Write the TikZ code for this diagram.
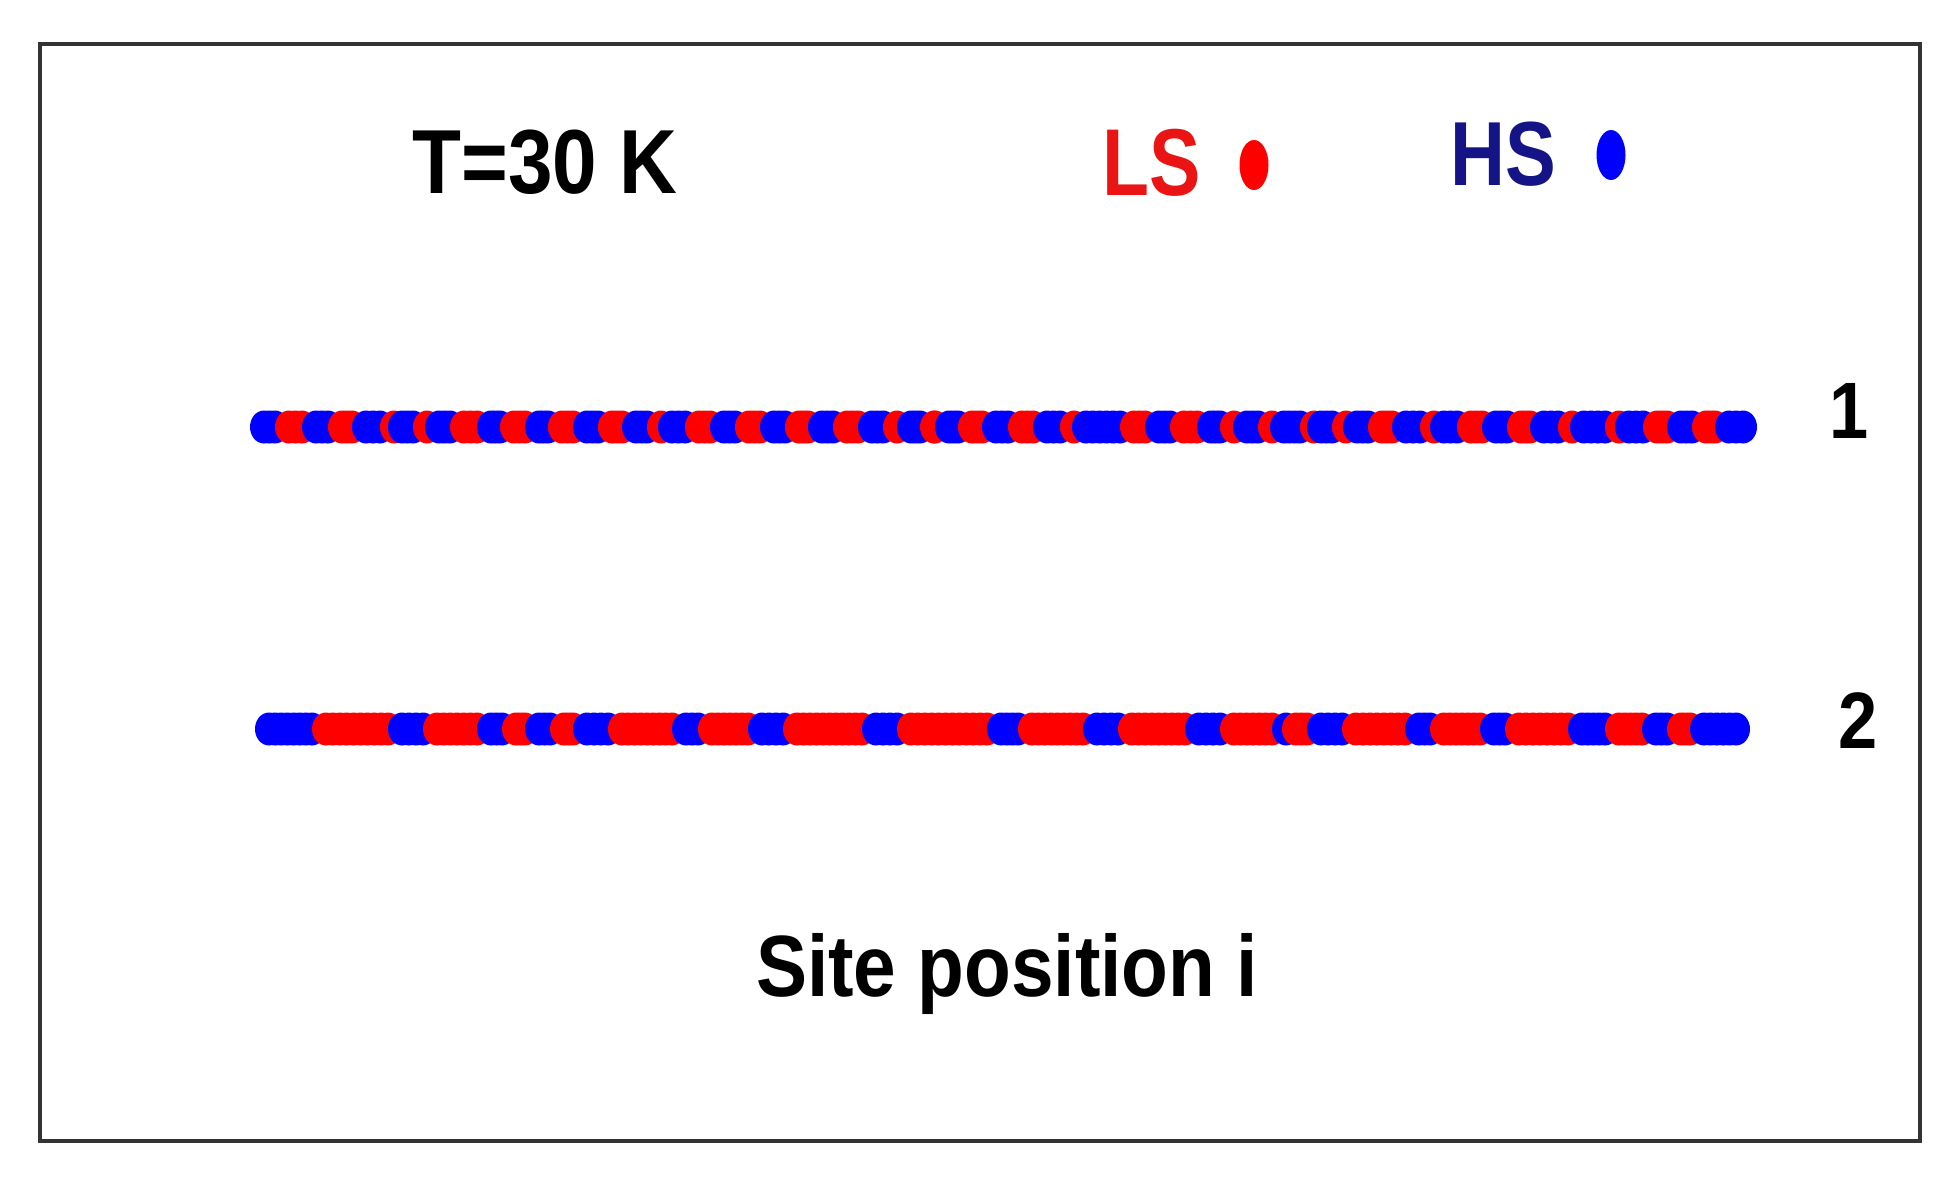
\documentclass[tikz,border=0pt]{standalone}
\usepackage{fontspec}
\usetikzlibrary{shapes.geometric}
\newfontfamily\hv[FakeStretch=0.88]{Liberation Sans}
\definecolor{lsred}{RGB}{255,0,0}
\definecolor{hsblue}{RGB}{0,0,255}
\definecolor{lstext}{RGB}{235,20,20}
\definecolor{hstext}{RGB}{20,20,135}
\newcommand\drawchain[2]{%
  \foreach \xa/\xb/\cc in {#2}{%
    \pgfmathsetmacro\xfirst{\xa+14}%
    \pgfmathsetmacro\xlast{max(\xa+14,\xb)}%
    \pgfmathtruncatemacro\nn{ceil((\xlast-\xfirst)/7)}%
    \pgfmathsetmacro\stp{(\xlast-\xfirst)/max(\nn,1)}%
    \foreach \k in {0,...,\nn}{%
      \fill[\cc] ({\xfirst+\k*\stp},#1) ellipse [x radius=14, y radius=16.5];
    }%
  }}
\begin{document}
\begin{tikzpicture}[x=1pt,y=-1pt,
  lbl/.style={font=\hv\bfseries\fontsize{88}{100}\selectfont, anchor=base, inner sep=0pt},
  legdot/.style={ellipse, inner sep=0pt, minimum width=29pt, minimum height=50pt}]
\useasboundingbox (0,0) rectangle (1960,1183);
\fill[white] (0,0) rectangle (1960,1183);
\draw[line width=3.5pt, draw=black!80] (40,44) rectangle (1920,1141);
% texts
\node[lbl, font=\hv\bfseries\fontsize{91}{100}\selectfont] (temp) at (545,193) {T=30 K};
\node[lbl, text=lstext, font=\hv\bfseries\fontsize{95}{100}\selectfont] (ls) at (1152,195) {\scalebox{0.92}[1]{LS}};
\node[legdot, fill=lsred] (lsdot) at (1254,165) {};
\node[lbl, text=hstext, font=\hv\bfseries\fontsize{91}{100}\selectfont] (hs) at (1503,185) {\scalebox{0.95}[1]{HS}};
\node[legdot, fill=hsblue] (hsdot) at (1611,155) {};
\node[lbl, font=\hv\bfseries\fontsize{80}{100}\selectfont] (one) at (1849,438) {1};
\node[lbl, font=\hv\bfseries\fontsize{80}{100}\selectfont] (two) at (1858,748) {2};
\node[lbl, font=\hv\bfseries\fontsize{87}{100}\selectfont] (site) at (1007,996) {Site position i};
% chain 1
\drawchain{427}{250/275/hsblue,275/302/lsred,302/328/hsblue,328/352/lsred,352/380/hsblue,380/388/lsred,388/413/hsblue,413/425/lsred,425/450/hsblue,450/477/lsred,477/500/hsblue,500/525/lsred,525/548/hsblue,548/573/lsred,573/598/hsblue,598/622/lsred,622/647/hsblue,647/658/lsred,658/685/hsblue,685/710/lsred,710/735/hsblue,735/760/lsred,760/785/hsblue,785/808/lsred,808/833/hsblue,833/858/lsred,858/883/hsblue,883/897/lsred,897/920/hsblue,920/935/lsred,935/958/hsblue,958/982/lsred,982/1008/hsblue,1008/1033/lsred,1033/1060/hsblue,1060/1072/lsred,1072/1120/hsblue,1120/1145/lsred,1145/1170/hsblue,1170/1197/lsred,1197/1220/hsblue,1220/1233/lsred,1233/1258/hsblue,1258/1270/lsred,1270/1300/hsblue,1300/1307/lsred,1307/1332/hsblue,1332/1343/lsred,1343/1368/hsblue,1368/1392/lsred,1392/1420/hsblue,1420/1430/lsred,1430/1457/hsblue,1457/1482/lsred,1482/1507/hsblue,1507/1530/lsred,1530/1558/hsblue,1558/1570/lsred,1570/1605/hsblue,1605/1615/lsred,1615/1643/hsblue,1643/1667/lsred,1667/1692/hsblue,1692/1715/lsred,1715/1743/hsblue}
% chain 2
\drawchain{729}{255/312/hsblue,312/388/lsred,388/423/hsblue,423/477/lsred,477/502/hsblue,502/525/lsred,525/550/hsblue,550/573/lsred,573/608/hsblue,608/672/lsred,672/698/hsblue,698/748/lsred,748/783/hsblue,783/862/lsred,862/897/hsblue,897/987/lsred,987/1018/hsblue,1018/1083/lsred,1083/1118/hsblue,1118/1185/lsred,1185/1220/hsblue,1220/1272/lsred,1272/1282/hsblue,1282/1307/lsred,1307/1342/hsblue,1342/1405/lsred,1405/1430/hsblue,1430/1480/lsred,1480/1505/hsblue,1505/1568/lsred,1568/1605/hsblue,1605/1642/lsred,1642/1667/hsblue,1667/1690/lsred,1690/1736/hsblue}
\end{tikzpicture}
\end{document}
